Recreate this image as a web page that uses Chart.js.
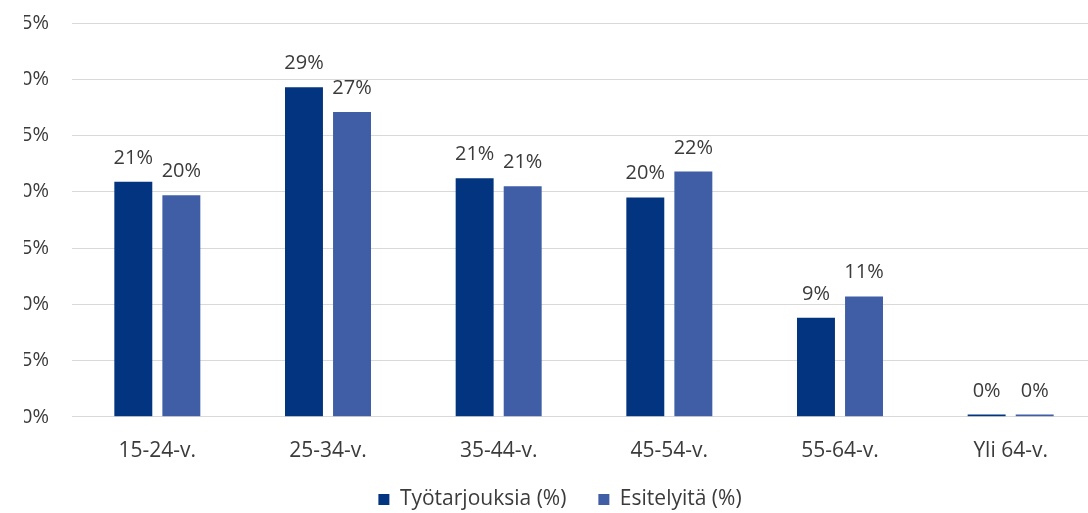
<!DOCTYPE html>
<html><head><meta charset="utf-8">
<script src="https://cdn.jsdelivr.net/npm/chart.js@4"></script>
<style>html,body{margin:0;padding:0;background:#fff;overflow:hidden}#w{width:1164px;height:520px}</style>
</head><body><div id="w"><canvas id="c"></canvas></div>
<script>
const categories = ["15-24-v.", "25-34-v.", "35-44-v.", "45-54-v.", "55-64-v.", "Yli 64-v."];
const tyotarjouksia = [20.9, 29.3, 21.2, 19.5, 8.8, 0.2];
const esittelyita = [19.7, 27.1, 20.5, 21.8, 10.7, 0.2];
const seriesNames = ["Työtarjouksia (%)", "Esitelyitä (%)"];
const yTicks = [0, 5, 10, 15, 20, 25, 30, 35];

const FONT = "'Open Sans', 'Noto Sans', sans-serif";
const TXT = '#3b3b3b';
const labelPlugin = {
  id: 'barLabels',
  afterDatasetsDraw(chart) {
    const ctx = chart.ctx;
    ctx.save();
    ctx.font = "20px " + FONT;
    ctx.fillStyle = TXT;
    ctx.textAlign = 'center';
    ctx.textBaseline = 'alphabetic';
    chart.data.datasets.forEach((ds, i) => {
      chart.getDatasetMeta(i).data.forEach((bar, j) => {
        ctx.fillText(Math.round(ds.data[j]) + '%', bar.x, bar.y - 18);
      });
    });
    ctx.restore();
  }
};
new Chart(document.getElementById('c'), {
  type: 'bar',
  data: {
    labels: categories,
    datasets: [
      { label: seriesNames[0], data: tyotarjouksia, backgroundColor: '#03347f' },
      { label: seriesNames[1], data: esittelyita, backgroundColor: '#3f5ea6' }
    ]
  },
  options: {
    responsive: true, maintainAspectRatio: false, animation: false,
    layout: { padding: { top: 23, right: 68, left: 24, bottom: 0 } },
    datasets: { bar: { categoryPercentage: 0.563, barPercentage: 0.79 } },
    plugins: {
      legend: {
        position: 'bottom',
        labels: { font: { size: 21, family: FONT }, color: TXT, boxWidth: 11, boxHeight: 11, padding: 32 }
      },
      tooltip: { enabled: false }
    },
    scales: {
      x: {
        grid: { display: false },
        border: { color: '#d9d9d9' },
        ticks: { font: { size: 21, family: FONT }, color: TXT, padding: 14 },
        afterFit: (s) => { s.height -= 21; }
      },
      y: {
        min: 0, max: 35,
        afterBuildTicks: (s) => { s.ticks = yTicks.map(v => ({ value: v })); },
        grid: { color: '#d9d9d9', drawTicks: false },
        border: { display: false },
        ticks: { font: { size: 20, family: FONT }, color: TXT, padding: 23, callback: v => v + '%' },
        afterFit: (s) => { s.width = 48; s.paddingTop = 0; s.paddingBottom = 0; }
      }
    }
  },
  plugins: [labelPlugin]
});
</script></body></html>
